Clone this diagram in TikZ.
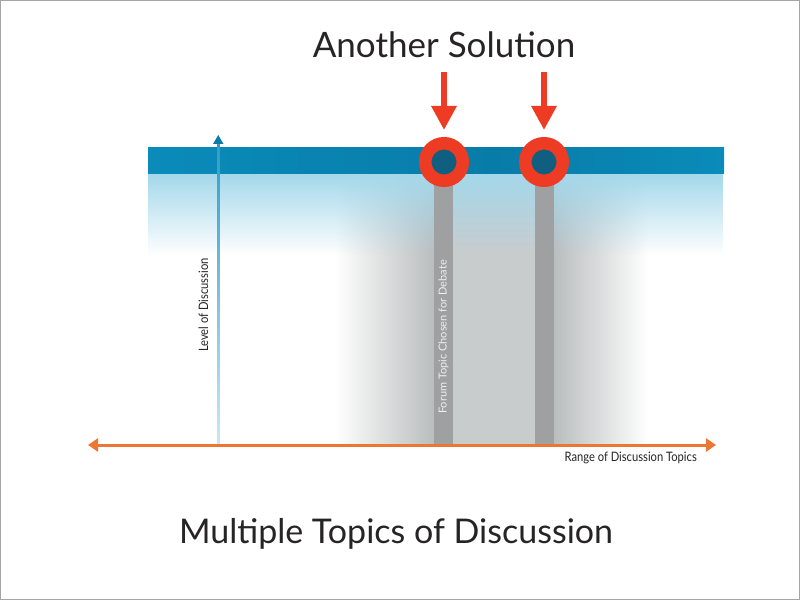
\documentclass[tikz,border=0pt]{standalone}
\usepackage{fontspec}
\setmainfont{Lato}
\newfontfamily\narrowfont[FakeStretch=0.86]{Lato}
\usepackage{tikz}
\usetikzlibrary{arrows.meta, fadings, positioning, calc}
\usepackage{xcolor}

\definecolor{bandblue}{HTML}{0A8BBA}
\definecolor{banddark}{HTML}{087CA8}
\definecolor{paleblue}{HTML}{A4D8EB}
\definecolor{holeteal}{HTML}{115F80}
\definecolor{solred}{HTML}{EE3B24}
\definecolor{rangeorange}{HTML}{EC7633}
\definecolor{barfill}{HTML}{9EA0A1}
\definecolor{glowgray}{HTML}{BABDBE}
\definecolor{glowmid}{HTML}{C9CCCD}
\definecolor{glowlight}{HTML}{DEE1E1}
\definecolor{inkdark}{HTML}{262425}

\tikzfading[name=fade down, top color=transparent!0, bottom color=transparent!100]

\begin{document}
\begin{tikzpicture}[x=1pt, y=1pt,
    ring/.style={circle, draw=solred, line width=12.5pt, fill=holeteal, minimum size=37.5pt, inner sep=0pt},
    solarrow/.style={draw=solred, line width=6pt, -{Triangle[length=24pt, width=24pt]}, shorten >=7pt},
    smalllabel/.style={font=\narrowfont\fontsize{13}{14}\selectfont, text=inkdark, inner sep=0pt}]
      \useasboundingbox (0, 0) rectangle (800, 600);
      \fill[white] (0, 0) rectangle (800, 600);
      \draw[gray!70, line width=1pt] (0.5, 0.5) rectangle (799.5, 599.5);

      % gray glow round the chosen topics
      \shade[left color=white, right color=glowgray] (335, 156) rectangle (434, 426);
      \shade[left color=glowmid, middle color=glowlight, right color=glowmid] (453, 156) rectangle (535, 426);
      \shade[left color=glowgray, right color=white] (554, 156) rectangle (648, 426);

      % pale blue under the band
      \fill[paleblue, path fading=fade down] (148, 345) rectangle (724, 426);

      % the band
      \shade[left color=bandblue, right color=banddark] (148, 426) rectangle (494, 452);
      \shade[left color=banddark, right color=bandblue] (494, 426) rectangle (724, 452);

      % topic bars
      \fill[barfill] (434, 156) rectangle (453, 426);
      \fill[barfill] (535, 156) rectangle (554, 426);
      \node[rotate=90, font=\fontsize{11}{12}\selectfont, text=white!88!gray, inner sep=0pt] (forum) at (443.5, 263) {Forum Topic Chosen for Debate};

      % level axis
      \shade[bottom color=paleblue!60, top color=bandblue!85] (217, 156) rectangle (219.5, 457);
      \fill[bandblue!90!black] (213, 456) -- (218.25, 465) -- (223.5, 456) -- cycle;
      \node[smalllabel, rotate=90] (level) at (203.5, 295) {Level of Discussion};

      % range axis
      \coordinate (rangeL) at (88, 155);
      \coordinate (rangeR) at (716, 155);
      \draw[rangeorange, line width=3pt, {Triangle[length=10pt, width=13pt]}-{Triangle[length=10pt, width=13pt]}] (rangeL) -- (rangeR);
      \node[smalllabel, anchor=base east] (range) at (697, 139) {Range of Discussion Topics};

      % solutions
      \node[ring] (solA) at (444, 438) {};
      \node[ring] (solB) at (544, 438) {};
      \coordinate (dropA) at (444, 528);
      \coordinate (dropB) at (544, 528);
      \draw[solarrow] (dropA) -- (solA.north);
      \draw[solarrow] (dropB) -- (solB.north);

      \node[font=\fontsize{35}{40}\selectfont, text=inkdark, anchor=base] (title) at (444, 542) {Another Solution};
      \node[font=\fontsize{34}{40}\selectfont, text=inkdark, anchor=base] (caption) at (396, 57) {Multiple Topics of Discussion};

    \end{tikzpicture}
\end{document}
